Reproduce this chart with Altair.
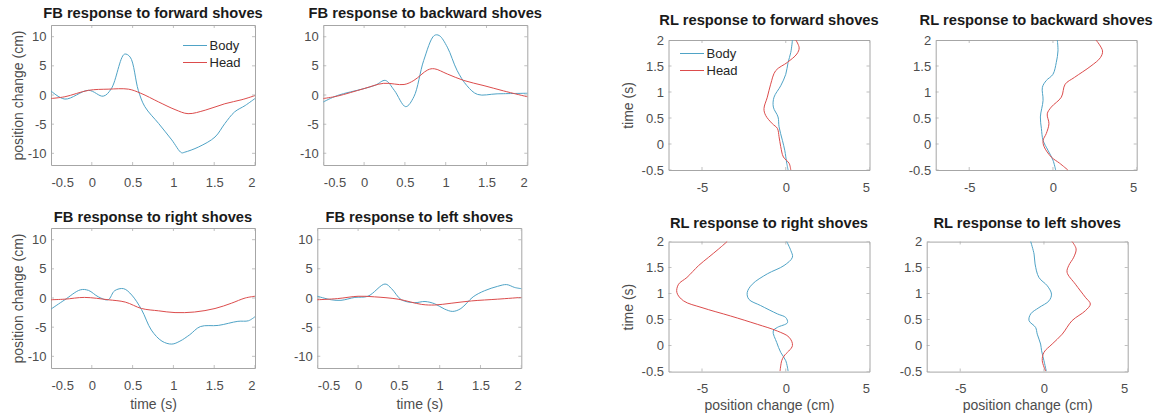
import altair as alt
import pandas as pd

BODY_COLOR = "#4fa3c6"
HEAD_COLOR = "#dc4c4c"
BOX_COLOR = "#a6a6a6"
FONT = "Liberation Sans"

# Tick positions
fb_x_ticks = [-0.5, 0, 0.5, 1, 1.5, 2]
fb_y_ticks = [-10, -5, 0, 5, 10]
rl_x_ticks = [-5, 0, 5]
rl_y_ticks = [-0.5, 0, 0.5, 1, 1.5, 2]

# FB (front-back) responses: time (s) -> position change (cm)
fb_fwd_body_t = [-0.5, -0.33, -0.04, 0.14, 0.24, 0.40, 0.47, 0.57, 0.65, 0.82, 0.98, 1.10, 1.14, 1.31, 1.51, 1.63, 1.75, 1.88, 2.0]
fb_fwd_body_v = [0.7, -0.7, 0.8, -0.2, 1.1, 7.0, 6.5, 0.8, -2.0, -4.9, -7.7, -9.9, -9.8, -8.9, -7.2, -4.9, -2.9, -1.8, -0.6]
fb_fwd_head_t = [-0.5, -0.33, -0.04, 0.2, 0.45, 0.6, 0.82, 1.02, 1.18, 1.39, 1.63, 1.84, 2.0]
fb_fwd_head_v = [-0.6, -0.3, 0.8, 1.0, 1.0, 0.3, -1.2, -2.5, -3.2, -2.6, -1.5, -0.8, -0.1]

fb_bwd_body_t = [-0.5, -0.33, 0, 0.14, 0.26, 0.37, 0.51, 0.61, 0.73, 0.86, 0.92, 1.02, 1.14, 1.26, 1.39, 1.63, 2.0]
fb_bwd_body_v = [-1.2, -0.1, 1.1, 1.7, 2.5, 0.8, -2.0, -0.3, 5.9, 10.2, 10.2, 8.2, 4.2, 1.6, 0.1, 0.2, 0.3]
fb_bwd_head_t = [-0.5, -0.33, 0, 0.24, 0.49, 0.61, 0.78, 0.86, 1.02, 1.22, 1.47, 1.71, 2.0]
fb_bwd_head_v = [-0.6, -0.2, 1.1, 2.0, 1.8, 2.5, 4.3, 4.5, 3.6, 2.5, 1.6, 0.7, -0.3]

fb_right_body_t = [-0.5, -0.33, -0.14, -0.04, 0.08, 0.2, 0.28, 0.39, 0.49, 0.61, 0.73, 0.86, 0.98, 1.08, 1.2, 1.33, 1.55, 1.79, 1.92, 2.0]
fb_right_body_v = [-1.9, -0.3, 1.4, 1.3, 0.2, -0.3, 1.25, 1.6, 0.5, -2.0, -5.5, -7.4, -7.9, -7.4, -6.3, -4.9, -4.7, -4.0, -3.9, -3.2]
fb_right_head_t = [-0.5, -0.33, -0.09, 0.2, 0.41, 0.61, 0.82, 1.02, 1.26, 1.51, 1.71, 1.88, 2.0]
fb_right_head_v = [-0.3, -0.2, 0.1, -0.3, -0.7, -1.8, -2.2, -2.5, -2.4, -1.8, -0.9, 0.0, 0.3]

fb_left_body_t = [-0.5, -0.33, -0.21, -0.04, 0.12, 0.33, 0.41, 0.53, 0.69, 0.82, 0.94, 1.06, 1.16, 1.26, 1.41, 1.55, 1.71, 1.82, 1.92, 2.0]
fb_left_body_v = [0.3, -0.3, -0.4, 0.1, 0.3, 2.4, 1.6, -0.3, -0.8, -0.6, -1.0, -1.9, -2.3, -1.8, 0.2, 1.25, 2.0, 2.3, 1.8, 1.6]
fb_left_head_t = [-0.5, -0.25, 0, 0.2, 0.49, 0.78, 0.94, 1.14, 1.39, 1.71, 2.0]
fb_left_head_v = [-0.3, -0.1, 0.3, 0.2, -0.2, -1.1, -1.2, -0.9, -0.5, -0.2, 0.1]

# RL (right-left) responses: position change (cm) drawn against time (s)
rl_fwd_body_t = [-0.5, -0.37, -0.12, 0.07, 0.33, 0.52, 0.71, 0.9, 1.12, 1.34, 1.57, 1.76, 2.0]
rl_fwd_body_v = [0.14, 0.06, -0.06, -0.2, -0.4, -0.46, -0.74, -0.7, -0.3, 0.0, 0.14, 0.3, 0.4]
rl_fwd_head_t = [-0.5, -0.37, -0.25, -0.05, 0.14, 0.3, 0.39, 0.55, 0.68, 0.9, 1.15, 1.41, 1.57, 1.73, 1.85, 2.0]
rl_fwd_head_v = [0.3, 0.2, -0.14, -0.3, -0.4, -0.5, -0.8, -1.2, -1.3, -1.1, -0.9, -0.6, 0.1, 0.66, 0.8, 0.6]

rl_bwd_body_t = [-0.5, -0.31, -0.12, 0.07, 0.3, 0.52, 0.84, 1.09, 1.22, 1.34, 1.57, 1.79, 2.0]
rl_bwd_body_v = [0.16, 0.0, -0.3, -0.59, -0.69, -0.75, -0.59, -0.63, -0.4, 0.0, 0.2, 0.3, 0.26]
rl_bwd_head_t = [-0.5, -0.37, -0.25, -0.05, 0.07, 0.2, 0.39, 0.58, 0.71, 0.9, 1.15, 1.28, 1.5, 1.66, 1.79, 2.0]
rl_bwd_head_v = [0.89, 0.4, -0.1, -0.53, -0.59, -0.4, -0.24, -0.34, -0.1, 0.5, 0.73, 1.28, 2.27, 2.83, 2.96, 2.57]

rl_right_body_t = [-0.49, -0.29, -0.13, 0.06, 0.28, 0.35, 0.44, 0.54, 0.61, 0.77, 0.89, 1.02, 1.18, 1.38, 1.54, 1.7, 1.83, 2.0]
rl_right_body_v = [0.14, 0.0, -0.3, -0.54, -0.75, -0.5, 0.1, 0.0, -0.5, -1.5, -2.2, -2.3, -2.0, -1.1, -0.1, 0.4, 0.3, 0.06]
rl_right_head_t = [-0.49, -0.29, -0.2, 0.0, 0.16, 0.28, 0.41, 0.57, 0.73, 0.86, 1.02, 1.18, 1.31, 1.54, 1.7, 1.86, 2.0]
rl_right_head_v = [-0.34, -0.24, -0.1, 0.4, 0.2, -0.5, -1.7, -3.3, -5.0, -6.1, -6.5, -6.4, -5.9, -5.2, -4.6, -4.0, -3.5]

rl_left_body_t = [-0.49, -0.29, -0.1, 0.03, 0.22, 0.35, 0.48, 0.61, 0.73, 0.86, 0.99, 1.15, 1.31, 1.57, 1.76, 2.0]
rl_left_body_v = [0.14, 0.0, -0.14, -0.2, -0.4, -0.5, -0.89, -0.79, -0.3, 0.3, 0.45, 0.2, -0.3, -0.53, -0.59, -0.79]
rl_left_head_t = [-0.49, -0.29, -0.13, 0.03, 0.22, 0.48, 0.67, 0.8, 0.93, 1.18, 1.41, 1.54, 1.7, 1.86, 2.0]
rl_left_head_v = [0.1, -0.1, 0.0, 0.49, 1.09, 1.68, 2.47, 2.77, 2.47, 1.88, 1.38, 1.48, 1.78, 1.92, 1.68]

FB_W, FB_H = 204, 140
RL_W, RL_H = 201, 130


def series_frame(body_t, body_v, head_t, head_v):
    rows = [{"t": t, "v": v, "series": "Body"} for t, v in zip(body_t, body_v)]
    rows += [{"t": t, "v": v, "series": "Head"} for t, v in zip(head_t, head_v)]
    return pd.DataFrame(rows)


def panel(kind, data, title, title_offset, xtitle=None, ytitle=None, legend=None):
    df = series_frame(*data)
    fb = kind == "FB"
    w, h = (FB_W, FB_H) if fb else (RL_W, RL_H)
    x_dom, x_ticks = ([-0.5, 2], fb_x_ticks) if fb else ([-7, 5], rl_x_ticks)
    y_dom, y_ticks = ([-12, 12], fb_y_ticks) if fb else ([-0.5, 2], rl_y_ticks)
    df["x"] = df["t"] if fb else df["v"]
    df["y"] = df["v"] if fb else df["t"]

    x_enc = alt.X("x:Q", scale=alt.Scale(domain=x_dom, nice=False, zero=False, padding=0),
                  axis=alt.Axis(values=x_ticks, title=xtitle, labelExpr="'' + datum.value",
                                labelPadding=11.5 if fb else 11, titlePadding=5 if fb else 3))
    y_enc = alt.Y("y:Q", scale=alt.Scale(domain=y_dom, nice=False, zero=False, padding=0),
                  axis=alt.Axis(values=y_ticks, title=ytitle, labelExpr="'' + datum.value",
                                labelPadding=5, titlePadding=2 if fb else 6))
    color = alt.Color("series:N",
                      scale=alt.Scale(domain=["Body", "Head"], range=[BODY_COLOR, HEAD_COLOR]),
                      legend=legend)

    lines = alt.Chart(df).mark_line(strokeWidth=1, interpolate="catmull-rom").encode(
        x=x_enc, y=y_enc, color=color, order="t:Q", detail="series:N")

    # inward tick marks on all four sides of the box
    xt = pd.DataFrame({"x": x_ticks})
    yt = pd.DataFrame({"y": y_ticks})
    tick = dict(color=BOX_COLOR, size=6, thickness=1, clip=True)
    ticks_b = alt.Chart(xt).mark_tick(**tick).encode(x=x_enc, y=alt.value(h))
    ticks_t = alt.Chart(xt).mark_tick(**tick).encode(x=x_enc, y=alt.value(0))
    ticks_l = alt.Chart(yt).mark_tick(**tick).encode(y=y_enc, x=alt.value(0))
    ticks_r = alt.Chart(yt).mark_tick(**tick).encode(y=y_enc, x=alt.value(w))

    return alt.layer(lines, ticks_b, ticks_t, ticks_l, ticks_r).properties(
        width=w, height=h,
        title=alt.TitleParams(title, offset=title_offset),
    )


def legend_at(x, y):
    # a 24px horizontal line sample per entry, rows ~17px apart
    return alt.Legend(title=None, orient="none", legendX=x, legendY=y,
                      symbolType="M-2,0L2,0", symbolSize=144, symbolStrokeWidth=1,
                      labelFontSize=13, labelFont=FONT, labelColor="#262626",
                      labelOffset=8, rowPadding=3, padding=0)


p1 = panel("FB", (fb_fwd_body_t, fb_fwd_body_v, fb_fwd_head_t, fb_fwd_head_v),
           "FB response to forward shoves", 4, ytitle="position change (cm)",
           legend=legend_at(137.5, 14))
p2 = panel("FB", (fb_bwd_body_t, fb_bwd_body_v, fb_bwd_head_t, fb_bwd_head_v),
           "FB response to backward shoves", 4)
p3 = panel("FB", (fb_right_body_t, fb_right_body_v, fb_right_head_t, fb_right_head_v),
           "FB response to right shoves", 3, xtitle="time (s)", ytitle="position change (cm)")
p4 = panel("FB", (fb_left_body_t, fb_left_body_v, fb_left_head_t, fb_left_head_v),
           "FB response to left shoves", 3, xtitle="time (s)")

p5 = panel("RL", (rl_fwd_body_t, rl_fwd_body_v, rl_fwd_head_t, rl_fwd_head_v),
           "RL response to forward shoves", 6, ytitle="time (s)",
           legend=legend_at(17, 7))
p6 = panel("RL", (rl_bwd_body_t, rl_bwd_body_v, rl_bwd_head_t, rl_bwd_head_v),
           "RL response to backward shoves", 6)
p7 = panel("RL", (rl_right_body_t, rl_right_body_v, rl_right_head_t, rl_right_head_v),
           "RL response to right shoves", 5.4, xtitle="position change (cm)", ytitle="time (s)")
p8 = panel("RL", (rl_left_body_t, rl_left_body_v, rl_left_head_t, rl_left_head_v),
           "RL response to left shoves", 5.4, xtitle="position change (cm)")


def resolved(c):
    return c.resolve_scale(color="independent").resolve_legend(color="independent")


def row(a, b, gap):
    return resolved(alt.hconcat(a, b, spacing=gap))


def col(a, b, gap):
    return resolved(alt.vconcat(a, b, spacing=gap))


def spacer():
    # invisible 1px block that fixes the top edge of each column group
    return alt.Chart(pd.DataFrame({"x": [0]})).mark_rule(opacity=0).encode(
        x=alt.value(0), x2=alt.value(1), y=alt.value(0)
    ).properties(width=1, height=1, view=alt.ViewBackground(stroke="transparent"))


left = col(spacer(), col(row(p1, p2, 34.3), row(p3, p4, 34.3), 19), 0)
right = col(spacer(), col(row(p5, p6, 28.2), row(p7, p8, 28.2), 19.6), 7)

chart = (
    resolved(alt.hconcat(left, right, spacing=77.5))
    .properties(
        padding={"left": 10, "top": 2, "right": 1, "bottom": 0},
        background="white",
    )
    .configure_view(stroke=BOX_COLOR, strokeWidth=1)
    .configure_axis(
        labelFont=FONT, labelFontSize=13, labelColor="#4d4d4d",
        titleFont=FONT, titleFontSize=14, titleFontWeight="normal", titleColor="#4d4d4d",
        ticks=False, domain=False, grid=False,
    )
    .configure_title(font=FONT, fontSize=14.7, fontWeight="bold", color="#1a1a1a", anchor="middle")
)

chart.save("out.html", embed_options={"renderer": "svg", "actions": False})
